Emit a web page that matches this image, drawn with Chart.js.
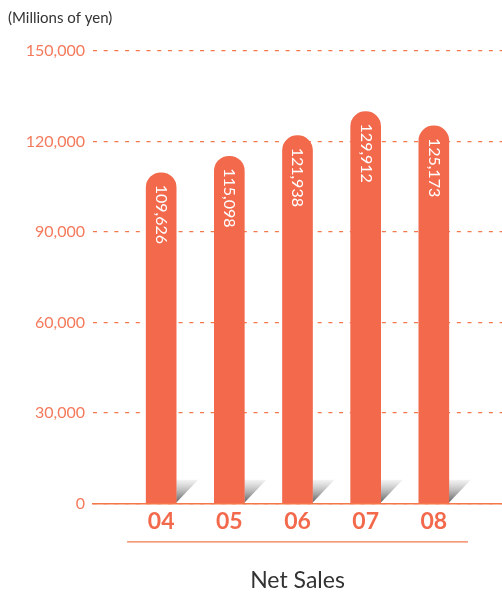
<!DOCTYPE html>
<html>
<head>
<meta charset="utf-8">
<script src="https://cdn.jsdelivr.net/npm/chart.js@4/dist/chart.umd.min.js"></script>
<style>
  html, body { margin: 0; padding: 0; background: #fff; }
  canvas { display: block; }
</style>
</head>
<body>
<canvas id="chartSales" width="502" height="611"></canvas>
<script>
// fiscal years and net sales (millions of yen)
const years = ['04', '05', '06', '07', '08'];
const netSales = [109626, 115098, 121938, 129912, 125173];
const yTicks = [0, 30000, 60000, 90000, 120000, 150000];

const ORANGE = '#f2694c';
const LINE = '#f4784a';
const fmt = v => v.toLocaleString('en-US');

// little folded shadow at the foot of each bar
const barShadow = {
    id: 'barShadow',
    beforeDatasetsDraw(chart) {
        const ctx = chart.ctx;
        chart.getDatasetMeta(0).data.forEach(bar => {
            const right = bar.x + bar.width / 2;
            const base = bar.base;
            const g = ctx.createLinearGradient(0, base - 23, 0, base);
            g.addColorStop(0, 'rgba(235,235,235,0.6)');
            g.addColorStop(1, '#5e5e5e');
            ctx.save();
            ctx.fillStyle = g;
            ctx.beginPath();
            ctx.moveTo(right, base - 23);
            ctx.lineTo(right + 22, base - 23);
            ctx.lineTo(right, base);
            ctx.closePath();
            ctx.fill();
            ctx.restore();
        });
    }
};

// vertical value labels inside the bars
const barValues = {
    id: 'barValues',
    afterDatasetsDraw(chart) {
        const ctx = chart.ctx;
        const ds = chart.data.datasets[0];
        chart.getDatasetMeta(0).data.forEach((bar, i) => {
            ctx.save();
            ctx.translate(bar.x, bar.y + 12);
            ctx.rotate(Math.PI / 2);
            ctx.fillStyle = '#fff';
            ctx.font = '16px Lato';
            ctx.textAlign = 'left';
            ctx.textBaseline = 'middle';
            ctx.fillText(fmt(ds.data[i].y), 0, 0);
            ctx.restore();
        });
    }
};

// rule under the year labels
const underline = {
    id: 'underline',
    afterDraw(chart) {
        const x = chart.scales.x;
        const ctx = chart.ctx;
        const y = x.top + 38.5;
        ctx.save();
        ctx.strokeStyle = LINE;
        ctx.lineWidth = 1.2;
        ctx.beginPath();
        ctx.moveTo(x.getPixelForValue(-0.5), y);
        ctx.lineTo(x.getPixelForValue(4.5), y);
        ctx.stroke();
        ctx.restore();
    }
};

new Chart(document.getElementById('chartSales'), {
    type: 'bar',
    data: {
        datasets: [{
            data: netSales.map((v, i) => ({ x: i, y: v })),
            backgroundColor: ORANGE,
            barThickness: 30,
            borderRadius: { topLeft: 15, topRight: 15, bottomLeft: 0, bottomRight: 0 },
            borderSkipped: false
        }]
    },
    options: {
        responsive: false,
        animation: false,
        layout: { padding: { left: 8 } },
        plugins: {
            legend: { display: false },
            tooltip: { enabled: false },
            subtitle: {
                display: true,
                position: 'top',
                align: 'start',
                text: '(Millions of yen)',
                color: '#333',
                font: { family: 'Lato', size: 15 },
                padding: { top: 9, bottom: 24 }
            },
            title: {
                display: true,
                position: 'bottom',
                fullSize: false,
                text: 'Net Sales',
                color: '#333',
                font: { family: 'Lato', size: 23, weight: 'normal' },
                padding: { top: 0, bottom: 17 }
            }
        },
        scales: {
            x: {
                type: 'linear',
                offset: false,
                min: -1,
                max: 5,
                afterFit: s => { s.height = 63; },
                afterBuildTicks: s => { s.ticks = years.map((_, i) => ({ value: i })); },
                ticks: {
                    autoSkip: false,
                    maxRotation: 0,
                    padding: -4,
                    color: ORANGE,
                    font: { family: 'Lato', size: 23, weight: 'bold' },
                    callback: v => years[v] ?? ''
                },
                grid: { display: false },
                border: { display: true, color: LINE, width: 1.5 }
            },
            y: {
                min: 0,
                max: 150000,
                afterFit: s => { s.width = 85; },
                afterBuildTicks: s => { s.ticks = yTicks.map(v => ({ value: v })); },
                ticks: {
                    padding: 8,
                    color: '#f47a5c',
                    font: { family: 'Lato', size: 16 },
                    callback: v => fmt(v)
                },
                grid: {
                    color: LINE,
                    lineWidth: 1.2,
                    drawTicks: false
                },
                border: { display: false, dash: [4, 6.7] }
            }
        }
    },
    plugins: [barShadow, barValues, underline]
});
</script>
</body>
</html>
